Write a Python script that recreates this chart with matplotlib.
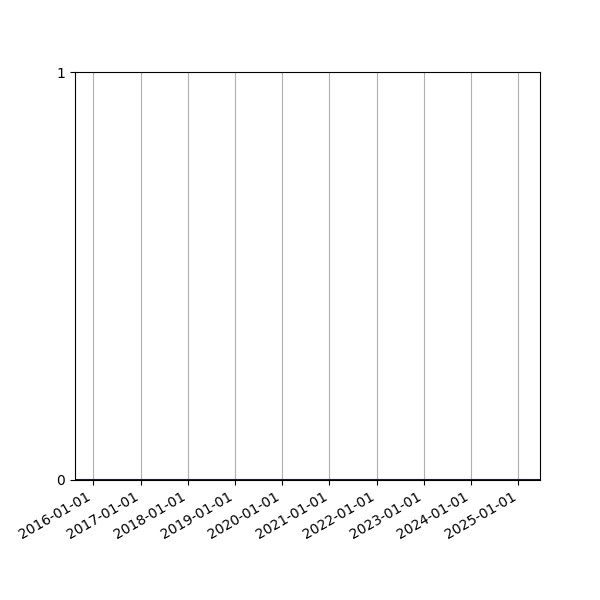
import matplotlib
matplotlib.use("Agg")
import matplotlib.pyplot as plt
import matplotlib.dates as mdates
import numpy as np
import pandas as pd

start_date = "2015-08-12"
end_date = "2025-06-18"
dates = pd.date_range(start_date, end_date, freq="MS")
dates = dates.insert(0, pd.Timestamp(start_date)).append(pd.DatetimeIndex([pd.Timestamp(end_date)]))
values = np.zeros(len(dates))
tick_years = list(range(2016, 2026))
y_ticks = [0, 1]

fig, ax = plt.subplots(figsize=(6, 6), dpi=100)
ax.plot(dates, values, color="blue", linewidth=1.5)
ax.set_xlim(dates[0], dates[-1])
ax.set_ylim(0, 1)
ax.set_yticks(y_ticks)
ax.set_xticks([pd.Timestamp(f"{y}-01-01") for y in tick_years])
ax.xaxis.set_major_formatter(mdates.DateFormatter("%Y-%m-%d"))
ax.grid(axis="x", color="#b0b0b0", linewidth=0.8)
ax.set_axisbelow(True)
fig.autofmt_xdate()
fig.savefig("out.png", dpi=100)
